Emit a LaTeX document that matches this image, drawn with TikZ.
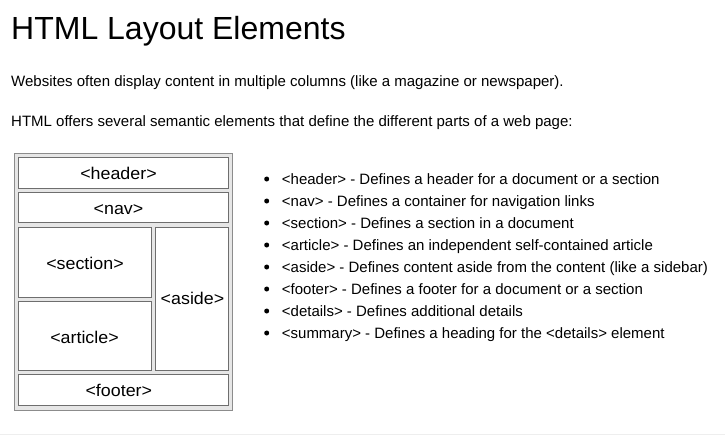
\documentclass[tikz,border=0pt]{standalone}
\usepackage{fontspec}
\setmainfont{Liberation Sans}
\newfontfamily\widesans[FakeStretch=1.05]{Liberation Sans}
\definecolor{outerfill}{HTML}{E6E6E6}
\definecolor{outerline}{HTML}{8C8C8C}
\definecolor{innerline}{HTML}{6E6E6E}
\definecolor{rulegray}{HTML}{EEEEEE}
\begin{document}
\begin{tikzpicture}[x=1pt,y=-1pt,
  outerbox/.style={draw=outerline,fill=outerfill,line width=1pt},
  partbox/.style={draw=innerline,fill=white,line width=0.9pt},
  partlabel/.style={anchor=base,inner sep=0pt,font=\widesans\fontsize{17}{20}\selectfont},
  bodytext/.style={anchor=base west,inner sep=0pt,font=\fontsize{15}{18}\selectfont},
  itemtext/.style={anchor=base west,inner sep=0pt,font=\fontsize{15}{18}\selectfont},
  bulletdot/.style={circle,fill=black,inner sep=0pt,minimum size=5pt}]
\useasboundingbox (0,0) rectangle (725,439);

% title and introduction
\node[anchor=base west,inner sep=0pt,font=\fontsize{32}{38}\selectfont] (title) at (11,39.5) {HTML Layout Elements};
\node[bodytext] (intro1) at (11,86) {Websites often display content in multiple columns (like a magazine or newspaper).};
\node[bodytext] (intro2) at (11,126) {HTML offers several semantic elements that define the different parts of a web page:};

% page layout sketch
\path[outerbox] (14,153) rectangle (232,410);
\path[partbox] (18.5,157.5) rectangle (228.5,188.5);
\path[partbox] (18.5,192.5) rectangle (228.5,222.5);
\path[partbox] (18.5,227.5) rectangle (151.5,297.5);
\path[partbox] (18.5,301.5) rectangle (151.5,370.5);
\path[partbox] (155.5,227.5) rectangle (228.5,370.5);
\path[partbox] (18.5,374.5) rectangle (228.5,405.5);

\node[partlabel] (lheader)  at (118.5,179.5) {<header>};
\node[partlabel] (lnav)     at (118.5,214.5) {<nav>};
\node[partlabel] (lsection) at (85,269.5) {<section>};
\node[partlabel] (larticle) at (84.5,343) {<article>};
\node[partlabel] (laside)   at (192.5,304.5) {<aside>};
\node[partlabel] (lfooter)  at (118.8,396) {<footer>};

% element list
\foreach \txt [count=\i from 0] in {
  {<header> - Defines a header for a document or a section},
  {<nav> - Defines a container for navigation links},
  {<section> - Defines a section in a document},
  {<article> - Defines an independent self-contained article},
  {<aside> - Defines content aside from the content (like a sidebar)},
  {<footer> - Defines a footer for a document or a section},
  {<details> - Defines additional details},
  {<summary> - Defines a heading for the <details> element}}{
  \node[bulletdot] (dot\i) at (266.7,179+22*\i) {};
  \node[itemtext] (item\i) at (281.7,184+22*\i) {\txt};
}

% closing rule
\draw[rulegray,line width=1pt] (0,434.5) -- (725,434.5);
\end{tikzpicture}
\end{document}
